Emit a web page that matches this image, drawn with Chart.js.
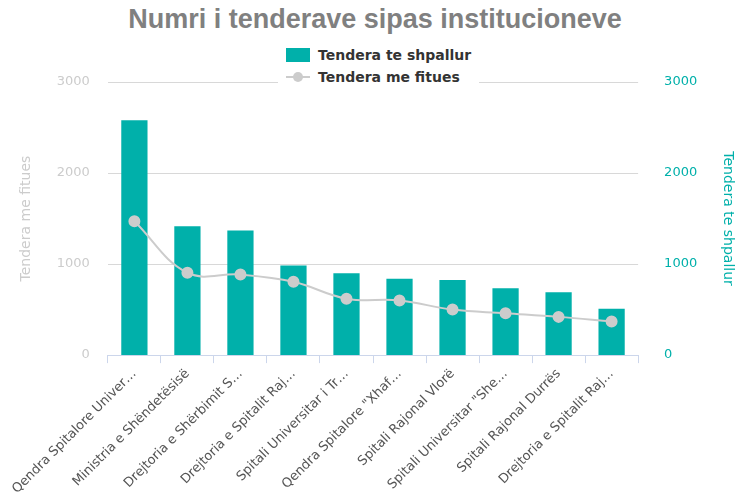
<!DOCTYPE html>
<html>
<head>
<meta charset="utf-8">
<script src="https://cdn.jsdelivr.net/npm/chart.js@4/dist/chart.umd.min.js"></script>
<style>
  body { margin: 0; background: #fff; font-family: "DejaVu Sans", sans-serif; }
  #wrap { position: relative; width: 750px; height: 500px; }
  h1 { position: absolute; top: 4px; left: 0; width: 750px; margin: 0; text-align: center;
       font: bold 27px "Liberation Sans", Arial, sans-serif; color: #808080; }
  #legend { position: absolute; top: 44px; left: 278px; background: #fff; padding: 0 8px 4px 8px;
            font: bold 14px "DejaVu Sans", sans-serif; color: #333; z-index: 2; }
  .item { display: flex; align-items: center; height: 22px; }
  .sw { width: 24px; height: 14px; margin-right: 8px; position: relative; }
  canvas { position: absolute; top: 0; left: 0; }
</style>
</head>
<body>
<div id="wrap">
  <h1>Numri i tenderave sipas institucioneve</h1>
  <div id="legend">
    <div class="item"><span class="sw" style="background:#00b0aa"></span>Tendera te shpallur</div>
    <div class="item"><span class="sw"><svg width="24" height="14"><line x1="0" y1="7" x2="24" y2="7" stroke="#ccc" stroke-width="2"/><circle cx="12" cy="7" r="5" fill="#ccc"/></svg></span>Tendera me fitues</div>
  </div>
  <canvas id="c" width="750" height="500"></canvas>
</div>
<script>
const categories = [
  "Qendra Spitalore Univer…", "Ministria e Shëndetësisë", "Drejtoria e Shërbimit S…",
  "Drejtoria e Spitalit Raj…", "Spitali Universitar i Tr…", "Qendra Spitalore \"Xhaf…",
  "Spitali Rajonal Vlorë", "Spitali Universitar \"She…", "Spitali Rajonal Durrës",
  "Drejtoria e Spitalit Raj…"
];
const shpallur = [2580, 1415, 1370, 985, 900, 840, 825, 735, 690, 510];
const fitues = [1470, 905, 885, 805, 620, 600, 500, 460, 420, 370];
const teal = "#00b0aa";
const grey = "#cccccc";
Chart.defaults.font.family = "'DejaVu Sans', sans-serif";

new Chart(document.getElementById("c"), {
  data: {
    labels: categories,
    datasets: [
      { type: "line", label: "Tendera me fitues", data: fitues, yAxisID: "yL",
        borderColor: grey, backgroundColor: grey, borderWidth: 2, tension: 0.4,
        pointRadius: 5, pointHoverRadius: 5, order: 0 },
      { type: "bar", label: "Tendera te shpallur", data: shpallur, yAxisID: "yR",
        backgroundColor: teal, categoryPercentage: 0.9, barPercentage: 0.55, order: 1 }
    ]
  },
  options: {
    responsive: false,
    animation: false,
    layout: { padding: { top: 82, left: 14, right: 10, bottom: 0 } },
    plugins: { legend: { display: false }, tooltip: { enabled: false } },
    scales: {
      x: {
        offset: true,
        grid: { display: true, drawOnChartArea: false, offset: true, color: "#ccd6eb", tickLength: 8 },
        border: { color: "#ccd6eb" },
        ticks: { color: "#555", font: { size: 13 }, maxRotation: 45, minRotation: 45, autoSkip: false }
      },
      yL: {
        position: "left", min: 0, max: 3000,
        ticks: { stepSize: 1000, color: "#ccc", font: { size: 13 }, padding: 18, callback: v => String(v) },
        grid: { color: "#d8d8d8", drawTicks: false },
        border: { display: false },
        title: { display: true, text: "Tendera me fitues", color: "#ccc", font: { size: 14 } }
      },
      yR: {
        position: "right", min: 0, max: 3000,
        ticks: { stepSize: 1000, color: teal, font: { size: 13 }, padding: 18, callback: v => String(v) },
        grid: { display: false },
        border: { display: false },
        title: { display: true, text: "Tendera te shpallur", color: teal, font: { size: 14 } }
      }
    }
  }
});
</script>
</body>
</html>
